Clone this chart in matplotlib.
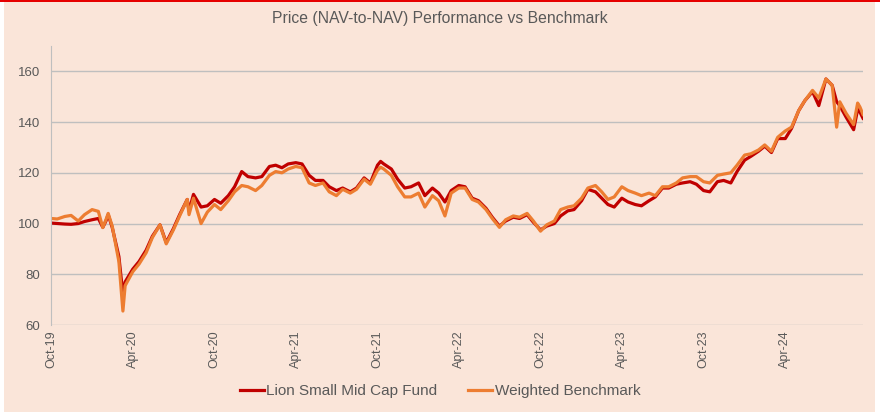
import pandas as pd
import matplotlib.pyplot as plt
from matplotlib.patches import Rectangle

# semi-monthly readings, plus a few extra points at sharp moves
dates = [
    "2019-10-01", "2019-10-15", "2019-11-01", "2019-11-15", "2019-12-01", "2019-12-15",
    "2020-01-01", "2020-01-15", "2020-01-25", "2020-02-01", "2020-02-06", "2020-02-15",
    "2020-03-01", "2020-03-10", "2020-03-15", "2020-04-01", "2020-04-15", "2020-05-01",
    "2020-05-15", "2020-06-01", "2020-06-15", "2020-07-01", "2020-07-15", "2020-08-01",
    "2020-08-05", "2020-08-15", "2020-09-01", "2020-09-15", "2020-10-01", "2020-10-15",
    "2020-11-01", "2020-11-15", "2020-12-01", "2020-12-15", "2021-01-01", "2021-01-15",
    "2021-02-01", "2021-02-15", "2021-03-01", "2021-03-15", "2021-04-01", "2021-04-15",
    "2021-05-01", "2021-05-15", "2021-06-01", "2021-06-15", "2021-07-01", "2021-07-15",
    "2021-08-01", "2021-08-15", "2021-09-01", "2021-09-15", "2021-10-01", "2021-10-08",
    "2021-10-15", "2021-11-01", "2021-11-15", "2021-12-01", "2021-12-15", "2022-01-01",
    "2022-01-15", "2022-02-01", "2022-02-15", "2022-03-01", "2022-03-15", "2022-04-01",
    "2022-04-15", "2022-05-01", "2022-05-15", "2022-06-01", "2022-06-15", "2022-07-01",
    "2022-07-15", "2022-08-01", "2022-08-15", "2022-09-01", "2022-09-15", "2022-10-01",
    "2022-10-15", "2022-11-01", "2022-11-15", "2022-12-01", "2022-12-15", "2023-01-01",
    "2023-01-15", "2023-02-01", "2023-02-15", "2023-03-01", "2023-03-15", "2023-04-01",
    "2023-04-15", "2023-05-01", "2023-05-15", "2023-06-01", "2023-06-15", "2023-07-01",
    "2023-07-15", "2023-08-01", "2023-08-15", "2023-09-01", "2023-09-15", "2023-10-01",
    "2023-10-15", "2023-11-01", "2023-11-15", "2023-12-01", "2023-12-15", "2024-01-01",
    "2024-01-15", "2024-02-01", "2024-02-15", "2024-03-01", "2024-03-15", "2024-04-01",
    "2024-04-15", "2024-05-01", "2024-05-08", "2024-05-15", "2024-06-01", "2024-06-15",
    "2024-07-01", "2024-07-15", "2024-07-25", "2024-08-01", "2024-08-15", "2024-09-01",
    "2024-09-10", "2024-09-15", "2024-09-22",
]
fund = [
    100.2, 100.0, 99.8, 99.7, 100.0, 100.8,
    101.5, 102.0, 98.5, 101.0, 103.5, 98.5,
    87.0, 72.0, 77.0, 82.0, 85.0, 89.5,
    95.0, 99.5, 92.5, 98.0, 103.5, 109.5,
    105.0, 111.5, 106.5, 107.0, 109.5, 108.0,
    111.0, 114.5, 120.5, 118.5, 118.0, 118.5,
    122.5, 123.0, 122.0, 123.5, 124.0, 123.5,
    119.0, 117.0, 117.0, 114.5, 113.0, 114.0,
    112.5, 114.0, 118.0, 116.0, 123.0, 124.5,
    123.5, 121.5, 117.5, 114.0, 114.5, 116.0,
    111.0, 114.0, 112.0, 108.5, 113.0, 115.0,
    114.5, 110.0, 109.0, 106.0, 102.5, 99.0,
    101.0, 102.5, 102.0, 103.5, 100.5, 97.5,
    99.0, 100.0, 103.0, 105.0, 105.5, 109.0,
    113.5, 112.5, 110.0, 107.5, 106.5, 110.0,
    108.5, 107.5, 107.0, 109.0, 110.5, 114.0,
    114.0, 115.5, 116.0, 116.5, 115.5, 113.0,
    112.5, 116.5, 117.0, 116.0, 120.5, 125.0,
    126.5, 128.5, 130.5, 128.0, 133.5, 133.5,
    137.5, 144.5, 146.5, 148.5, 152.0, 146.5,
    157.0, 154.5, 148.0, 146.5, 142.0, 137.0,
    145.0, 144.0, 141.5,
]
benchmark = [
    102.0, 101.8, 102.8, 103.2, 101.0, 103.5,
    105.5, 104.8, 98.4, 101.5, 104.0, 99.0,
    85.0, 65.5, 75.5, 81.0, 84.0, 88.5,
    94.5, 99.5, 92.0, 97.5, 103.0, 109.5,
    103.5, 110.0, 100.0, 104.5, 107.5, 105.5,
    109.0, 112.5, 115.0, 114.5, 113.0, 115.0,
    119.0, 120.5, 120.0, 121.5, 122.5, 122.0,
    116.0, 115.0, 116.0, 112.5, 111.0, 113.5,
    112.0, 113.5, 117.5, 115.5, 121.0, 122.2,
    121.5, 119.0, 114.5, 110.5, 110.5, 112.0,
    106.5, 111.0, 109.0, 103.0, 112.0, 114.0,
    114.0, 109.5, 108.5, 105.5, 102.0, 98.5,
    101.5, 103.0, 102.5, 104.0, 101.0, 97.0,
    99.5, 101.0, 105.5, 106.5, 107.0, 110.0,
    114.0, 115.0, 112.5, 109.5, 110.5, 114.5,
    113.0, 112.0, 111.0, 112.0, 111.0, 114.5,
    114.5, 116.0, 118.0, 118.5, 118.5, 116.5,
    116.0, 119.0, 119.5, 120.0, 123.0, 127.0,
    127.5, 129.0, 131.0, 128.5, 134.0, 136.5,
    138.0, 144.5, 146.6, 148.5, 152.5, 149.5,
    157.0, 154.5, 138.0, 148.0, 143.5, 139.0,
    147.5, 146.0, 143.0,
]
tick_labels = ["Oct-19", "Apr-20", "Oct-20", "Apr-21", "Oct-21", "Apr-22",
               "Oct-22", "Apr-23", "Oct-23", "Apr-24"]

df = pd.DataFrame({"fund": fund, "bench": benchmark}, index=pd.to_datetime(dates))

bg = "#FAE5D9"
grey = "#595959"

fig = plt.figure(figsize=(8.8, 4.12), dpi=100, facecolor="white")
# peach panel with a thin red rule on top
fig.patches.append(Rectangle((4 / 880, 0), 871 / 880, 1, transform=fig.transFigure,
                             facecolor=bg, edgecolor="none", zorder=-10))
fig.patches.append(Rectangle((0, 1 - 2 / 412), 1, 2 / 412, transform=fig.transFigure,
                             facecolor="#E60000", edgecolor="none", zorder=-9))

ax = fig.add_axes([51 / 880, 1 - 325 / 412, 812 / 880, 279 / 412])
ax.set_facecolor(bg)
ax.plot(df.index, df["fund"], color="#C00000", lw=2.3, label="Lion Small Mid Cap Fund")
ax.plot(df.index, df["bench"], color="#ED7D31", lw=2.3, label="Weighted Benchmark")

ax.set_ylim(60, 170)
ax.set_yticks([60, 80, 100, 120, 140, 160])
ax.set_xlim(df.index[0], df.index[-1])
ticks = pd.date_range("2019-10-01", periods=len(tick_labels), freq="6MS")
ax.set_xticks(ticks)
ax.set_xticklabels(tick_labels, rotation=90)
ax.grid(axis="y", color="#BFBFBF", lw=1)
ax.set_axisbelow(True)
for s in ["top", "right", "bottom"]:
    ax.spines[s].set_visible(False)
ax.spines["left"].set_color("#BFBFBF")
ax.tick_params(axis="both", length=0, colors=grey)
ax.tick_params(axis="y", pad=8, labelsize=9.5)
ax.tick_params(axis="x", pad=4, labelsize=9)
for lab in ax.get_xticklabels() + ax.get_yticklabels():
    lab.set_fontfamily("Liberation Sans")

fig.text(0.5, 1 - 18 / 412, "Price (NAV-to-NAV) Performance vs Benchmark",
         ha="center", va="center", color=grey, fontsize=11.3, family="Liberation Sans")

leg = fig.legend(loc="center", bbox_to_anchor=(0.5, 1 - 391 / 412), ncol=2, frameon=False,
                 handlelength=1.6, handletextpad=0.15, columnspacing=2.0,
                 prop={"family": "Liberation Sans", "size": 11})
for t in leg.get_texts():
    t.set_color(grey)

fig.savefig("out.png", dpi=100, facecolor=fig.get_facecolor())
